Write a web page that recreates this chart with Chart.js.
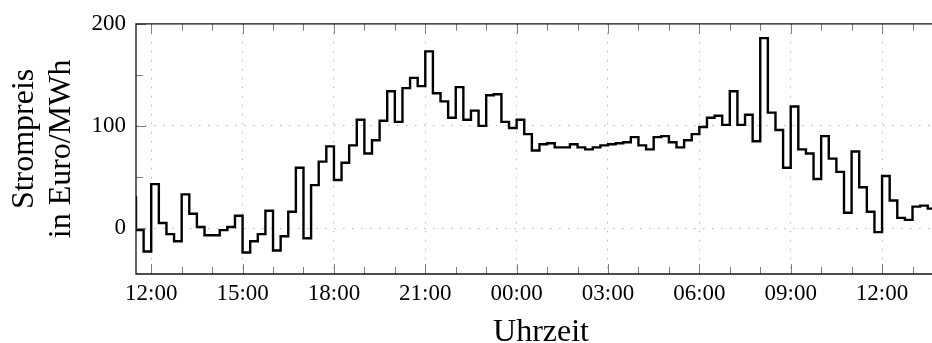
<!DOCTYPE html>
<html>
<head>
<meta charset="utf-8">
<script src="https://cdn.jsdelivr.net/npm/chart.js@4/dist/chart.umd.min.js"></script>
<style>
  html, body { margin:0; padding:0; background:#fff; }
  #wrap { width:932px; height:343px; position:relative; }
</style>
</head>
<body>
<div id="wrap"><canvas id="chart"></canvas></div>
<script>
// ===== Strompreis (Viertelstundenwerte) =====

// first value belongs to 11:15, then every 15 minutes (hours since midnight of day 1)
const START_HOUR = 11.25;
const STEP_HOURS = 0.25;

const PRICES = [
  30,
  -2, -23, 43, 5, -6, -13, 33, 14, 1, -7, -7, -2, 1, 12,
  -24, -13, -6, 17, -22, -8, 16, 59, -10, 42, 65, 80,
  47, 64, 81, 106, 73, 86, 105, 134, 104, 137, 147, 139,
  173, 132, 124, 108, 138, 106, 115, 100, 130, 131, 104, 98,
  106, 92, 76, 82, 83, 79, 79, 82, 79, 77, 79, 81,
  82, 83, 84, 89, 81, 77, 89, 90, 84, 79, 86, 92,
  99, 108, 110, 101, 134, 101, 111, 85, 186, 113, 96, 59,
  119, 77, 73, 48, 90, 68, 55, 15, 75, 40, 16, -4,
  51, 27, 10, 8, 21, 22, 19, 19
];
const TIMES = PRICES.map((_, i) => START_HOUR + i * STEP_HOURS);

const X_MIN = 11.5, X_MAX = 37.64;
const X_TICKS = [12,13,14,15,16,17,18,19,20,21,22,23,24,25,26,27,28,29,30,31,32,33,34,35,36,37];
const Y_MIN = -45, Y_MAX = 200;
const Y_TICKS = [0, 50, 100, 150, 200];

const FONT = '"Liberation Serif", "Times New Roman", serif';
const GRID = '#b8b8b8';

function hhmm(h) {
  const v = ((h % 24) + 24) % 24;
  return String(v).padStart(2, '0') + ':00';
}

// frame, inner tick marks, axis titles
const framePlugin = {
  id: 'frame',
  afterDraw(chart) {
    const { ctx, chartArea: a } = chart;
    const xs = chart.scales.x, ys = chart.scales.y;
    ctx.save();
    ctx.strokeStyle = '#7d7d7d';
    ctx.lineWidth = 1;
    X_TICKS.forEach(v => {
      const px = Math.round(xs.getPixelForValue(v)) + 0.5;
      const len = v % 3 === 0 ? 10 : 7;
      ctx.beginPath();
      ctx.moveTo(px, a.bottom); ctx.lineTo(px, a.bottom - len);
      ctx.moveTo(px, a.top); ctx.lineTo(px, a.top + len);
      ctx.stroke();
    });
    Y_TICKS.forEach(v => {
      const py = Math.round(ys.getPixelForValue(v)) + 0.5;
      const len = v % 100 === 0 ? 10 : 7;
      ctx.beginPath();
      ctx.moveTo(a.left, py); ctx.lineTo(a.left + len, py);
      ctx.stroke();
    });
    ctx.strokeStyle = '#111';
    ctx.lineWidth = 1.3;
    ctx.beginPath();
    ctx.moveTo(a.right + 2, a.top);
    ctx.lineTo(a.left, a.top);
    ctx.lineTo(a.left, a.bottom);
    ctx.lineTo(a.right + 2, a.bottom);
    ctx.stroke();

    ctx.fillStyle = '#000';
    ctx.font = '32px ' + FONT;
    ctx.textAlign = 'center';
    ctx.textBaseline = 'alphabetic';
    ctx.fillText('Uhrzeit', (a.left + a.right) / 2 + 7, 341);
    const midY = (a.top + a.bottom) / 2;
    ctx.save(); ctx.translate(33, midY - 10); ctx.rotate(-Math.PI / 2);
    ctx.fillText('Strompreis', 0, 0); ctx.restore();
    ctx.save(); ctx.translate(70, midY); ctx.rotate(-Math.PI / 2);
    ctx.fillText('in Euro/MWh', 0, 0); ctx.restore();
    ctx.restore();
  }
};

new Chart(document.getElementById('chart'), {
  type: 'line',
  data: {
    datasets: [{
      data: TIMES.map((t, i) => ({ x: t, y: PRICES[i] })),
      stepped: 'before',
      borderColor: '#000',
      borderWidth: 2.4,
      pointRadius: 0,
      fill: false,
      tension: 0
    }]
  },
  options: {
    responsive: true, maintainAspectRatio: false, animation: false,
    layout: { padding: { top: 21, left: 0, right: 0, bottom: 0 } },
    plugins: { legend: { display: false }, tooltip: { enabled: false } },
    scales: {
      x: {
        type: 'linear', min: X_MIN, max: X_MAX,
        afterBuildTicks: s => { s.ticks = X_TICKS.map(v => ({ value: v })); },
        afterFit: s => { s.height = 69; },
        ticks: {
          autoSkip: false, maxRotation: 0, padding: 6, color: '#000',
          font: { family: FONT, size: 23 },
          callback: v => (v % 3 === 0 ? hhmm(v) : '')
        },
        grid: {
          drawTicks: false,
          color: c => (c.tick && c.tick.value % 3 === 0 ? GRID : 'rgba(0,0,0,0)'),
          lineWidth: 1
        },
        border: { display: false, dash: [1.5, 7.5] }
      },
      y: {
        min: Y_MIN, max: Y_MAX,
        afterBuildTicks: s => { s.ticks = Y_TICKS.map(v => ({ value: v })); },
        afterFit: s => { s.width = 136; },
        ticks: {
          padding: 10, color: '#000',
          font: { family: FONT, size: 23 },
          callback: v => (v % 100 === 0 ? String(v) : '')
        },
        grid: {
          drawTicks: false,
          color: c => (c.tick && (c.tick.value === 0 || c.tick.value === 100) ? GRID : 'rgba(0,0,0,0)'),
          lineWidth: 1
        },
        border: { display: false, dash: [1.5, 7.5] }
      }
    }
  },
  plugins: [framePlugin]
});
</script>
</body>
</html>
